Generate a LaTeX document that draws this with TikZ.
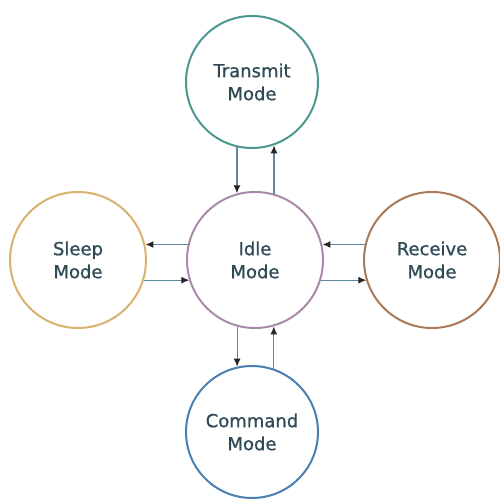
\documentclass[tikz,border=0pt]{standalone}
\usepackage{fontspec}
\setmainfont{DejaVu Sans}
\newfontfamily\modefont[FakeBold=0.8]{DejaVu Sans}
\usetikzlibrary{arrows.meta}

\definecolor{txcol}{HTML}{4C9890}
\definecolor{idcol}{HTML}{A98AA8}
\definecolor{slcol}{HTML}{D9B26E}
\definecolor{rxcol}{HTML}{A87A58}
\definecolor{cmcol}{HTML}{4A80B0}
\definecolor{linkcol}{HTML}{5A8AA0}
\definecolor{labelcol}{HTML}{2E4A55}

\tikzset{
  mode/.style={circle, draw, line width=2pt, fill=white, inner sep=0pt,
    minimum size=#1, align=center, text=labelcol,
    font=\modefont\fontsize{18}{23}\selectfont},
  link/.style={draw=linkcol, line width=1.2pt,
    -{Latex[length=8pt,width=7pt,color=black!85]}},
}

\begin{document}
\begin{tikzpicture}[x=1pt,y=-1pt]
  \useasboundingbox (0,0) rectangle (499,502);
  \fill[white] (0,0) rectangle (499,502);

  % states
  \node[mode=132pt, draw=txcol] (transmit) at (252,82)  {Transmit\\Mode};
  \node[mode=136pt, draw=idcol] (idle)     at (255,260) {Idle\\Mode};
  \node[mode=136pt, draw=slcol] (sleep)    at (78,260)  {Sleep\\Mode};
  \node[mode=136pt, draw=rxcol] (receive)  at (432,260) {Receive\\Mode};
  \node[mode=132pt, draw=cmcol] (command)  at (252,432) {Command\\Mode};

  % transmit <-> idle (kept strictly vertical)
  \draw[link] (transmit.-103.1) -- (transmit.-103.1 |- idle.105.3);
  \draw[link] (idle.74.7) -- (idle.74.7 |- transmit.-71.5);

  % sleep <-> idle (kept strictly horizontal)
  \draw[link] (idle.167.3) -- (idle.167.3 -| sleep.12.7);
  \draw[link] (sleep.-17.1) -- (sleep.-17.1 -| idle.-162.9);

  % receive <-> idle
  \draw[link] (receive.167.3) -- (receive.167.3 -| idle.12.7);
  \draw[link] (idle.-17.1) -- (idle.-17.1 -| receive.-162.9);

  % idle <-> command
  \draw[link] (idle.-105.3) -- (idle.-105.3 |- command.103.1);
  \draw[link] (command.71.5) -- (command.71.5 |- idle.-74.7);
\end{tikzpicture}
\end{document}
